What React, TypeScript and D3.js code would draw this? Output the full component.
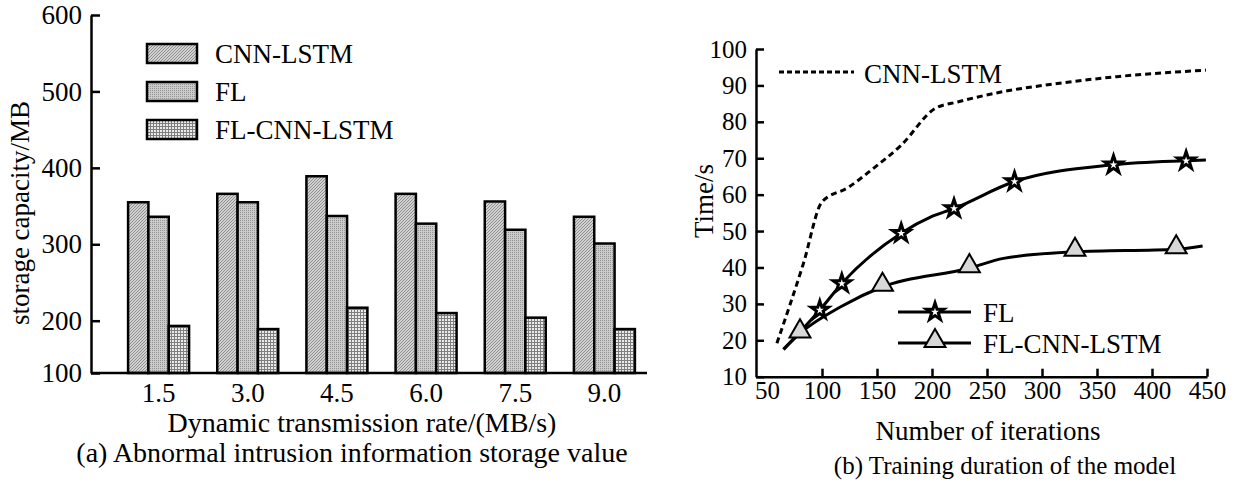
import * as React from "react";
import * as d3 from "d3";

// (a) storage values per transmission rate
const rates = ["1.5", "3.0", "4.5", "6.0", "7.5", "9.0"];
const barSeries = ["CNN-LSTM", "FL", "FL-CNN-LSTM"];
const cnnLstmStorage = [355, 366, 389, 366, 356, 336];
const flStorage = [336, 355, 337, 327, 319, 301];
const flCnnLstmStorage = [190, 184, 217, 210, 204, 184];
const storageTicks = [100, 200, 300, 400, 500, 600];

// (b) training time vs iterations
const iterTicks = [50, 100, 150, 200, 250, 300, 350, 400, 450];
const timeTicks = [10, 20, 30, 40, 50, 60, 70, 80, 90, 100];
const cnnLstmTime = [
  [59, 19.2], [83, 41], [100, 58], [124, 62], [145, 66.8], [172, 73.6],
  [203, 83.7], [224, 85.5], [265, 88.3], [316, 90.6], [368, 92.4], [449, 94.2],
];
const flTime = [
  [65, 17.5], [98, 28.3], [118, 35.6], [172, 49.4], [200, 54], [220, 56.2],
  [275, 63.6], [365, 68.2], [431, 69.3], [449, 69.5],
];
const flMarks = [[98, 28.3], [118, 35.6], [172, 49.4], [220, 56.2], [275, 63.6], [365, 68.2], [431, 69.3]];
const flCnnLstmTime = [
  [65, 17.5], [80, 21.9], [117, 29.2], [155, 34.7], [234, 39.8], [265, 42.5],
  [330, 44.3], [422, 45], [446, 45.9],
];
const flCnnLstmMarks = [[80, 21.9], [155, 34.7], [234, 39.8], [330, 44.3], [422, 45]];

const FONT = "'Liberation Serif', 'Times New Roman', serif";
const patternIds = ["p-cnn", "p-fl", "p-flc"];

function addPatterns(defs) {
  const p1 = defs.append("pattern").attr("id", "p-cnn").attr("patternUnits", "userSpaceOnUse")
    .attr("width", 3).attr("height", 3);
  p1.append("rect").attr("width", 3).attr("height", 3).attr("fill", "#d2d2d2");
  p1.append("path").attr("d", "M0,3L3,0M-1,1L1,-1M2,4L4,2").attr("stroke", "#868686").attr("stroke-width", 0.9);

  const p2 = defs.append("pattern").attr("id", "p-fl").attr("patternUnits", "userSpaceOnUse")
    .attr("width", 2).attr("height", 2);
  p2.append("rect").attr("width", 2).attr("height", 2).attr("fill", "#cbcbcb");
  p2.append("rect").attr("width", 1).attr("height", 1).attr("fill", "#949494");

  const p3 = defs.append("pattern").attr("id", "p-flc").attr("patternUnits", "userSpaceOnUse")
    .attr("width", 3).attr("height", 3);
  p3.append("rect").attr("width", 3).attr("height", 3).attr("fill", "#ebebeb");
  p3.append("path").attr("d", "M0,0.5H3M0.5,0V3").attr("stroke", "#7e7e7e").attr("stroke-width", 1);
}

function drawBars(svg) {
  const g = svg.append("g");
  const y = d3.scaleLinear().domain([100, 200, 600]).range([373, 320.7, 15]);
  const x = d3.scaleBand().domain(rates).range([114, 649]).paddingInner(0.316).paddingOuter(0.158);
  const xs = d3.scaleBand().domain(barSeries).range([0, x.bandwidth()]);
  const values = [cnnLstmStorage, flStorage, flCnnLstmStorage];

  barSeries.forEach((s, si) => {
    g.selectAll(`.bar-${si}`)
      .data(values[si])
      .enter()
      .append("rect")
      .attr("x", (d, i) => x(rates[i]) + xs(s))
      .attr("y", (d) => y(d))
      .attr("width", xs.bandwidth())
      .attr("height", (d) => y(100) - y(d))
      .attr("fill", `url(#${patternIds[si]})`)
      .attr("stroke", "#000")
      .attr("stroke-width", 2.5);
  });

  // axes
  g.append("g")
    .attr("transform", "translate(91,0)")
    .call(d3.axisLeft(y).tickValues(storageTicks).tickFormat(d3.format("d")).tickSizeInner(-9).tickSizeOuter(0).tickPadding(9))
    .call((n) => n.selectAll("path,line").attr("stroke", "#000").attr("stroke-width", 2.5));

  g.append("line").attr("x1", 91).attr("x2", 647).attr("y1", y(100)).attr("y2", y(100))
    .attr("stroke", "#000").attr("stroke-width", 2.5);

  g.append("g")
    .attr("transform", `translate(0,${y(100)})`)
    .call(d3.axisBottom(x).tickSize(0).tickPadding(10))
    .call((n) => n.select(".domain").remove());

  g.selectAll(".tick text").attr("font-family", FONT).attr("font-size", 27).attr("fill", "#000");

  // legend
  const lg = g.append("g");
  barSeries.forEach((s, i) => {
    const ly = 44 + i * 38;
    lg.append("rect").attr("x", 147).attr("y", ly).attr("width", 50).attr("height", 19)
      .attr("fill", `url(#${patternIds[i]})`).attr("stroke", "#000").attr("stroke-width", 2.5);
    lg.append("text").attr("x", 215).attr("y", ly + 19).text(s);
  });

  g.append("text").attr("transform", "translate(29,213) rotate(-90)").attr("text-anchor", "middle")
    .text("storage capacity/MB");
  g.selectAll(":scope > text, :scope > g > text").attr("font-family", FONT).attr("font-size", 27);

  g.append("text").attr("x", 362).attr("y", 432).attr("text-anchor", "middle")
    .attr("font-family", FONT).attr("font-size", 28)
    .text("Dynamic transmission rate/(MB/s)");
  g.append("text").attr("x", 352).attr("y", 462).attr("text-anchor", "middle")
    .attr("font-family", FONT).attr("font-size", 28)
    .text("(a) Abnormal intrusion information storage value");
}

function drawLines(svg) {
  const g = svg.append("g");
  const x = d3.scaleLinear().domain([40, 450]).range([756, 1207]);
  const y = d3.scaleLinear().domain([10, 100]).range([376.7, 49]);
  const line = d3.line().x((d) => x(d[0])).y((d) => y(d[1])).curve(d3.curveMonotoneX);

  g.append("g")
    .attr("transform", "translate(756,0)")
    .call(d3.axisLeft(y).tickValues(timeTicks).tickSizeInner(-8).tickSizeOuter(0).tickPadding(9))
    .call((n) => n.selectAll("path,line").attr("stroke", "#000").attr("stroke-width", 2.5));

  g.append("g")
    .attr("transform", `translate(0,${y(10)})`)
    .call(d3.axisBottom(x).tickValues(iterTicks).tickSizeInner(-8).tickSizeOuter(0).tickPadding(5))
    .call((n) => n.selectAll("path,line").attr("stroke", "#000").attr("stroke-width", 2.5))
    .call((n) => n.selectAll(".tick").filter((d) => d === 50).select("line").remove());

  g.selectAll(".tick text").attr("font-family", FONT).attr("font-size", 25).attr("fill", "#000");

  g.append("path").attr("d", line(cnnLstmTime)).attr("fill", "none").attr("stroke", "#000")
    .attr("stroke-width", 3).attr("stroke-dasharray", "6,4");
  g.append("path").attr("d", line(flTime)).attr("fill", "none").attr("stroke", "#000").attr("stroke-width", 3);
  g.append("path").attr("d", line(flCnnLstmTime)).attr("fill", "none").attr("stroke", "#000").attr("stroke-width", 3);

  const star = d3.symbol().type(d3.symbolStar).size(95);
  const tri = d3.symbol().type(d3.symbolTriangle).size(190);

  g.selectAll(".star").data(flMarks).enter().append("path")
    .attr("transform", (d) => `translate(${x(d[0])},${y(d[1])})`)
    .attr("d", star()).attr("fill", "#fff").attr("stroke", "#000").attr("stroke-width", 3);
  g.selectAll(".tri").data(flCnnLstmMarks).enter().append("path")
    .attr("transform", (d) => `translate(${x(d[0])},${y(d[1]) - 2})`)
    .attr("d", tri()).attr("fill", "#d8d8d8").attr("stroke", "#000").attr("stroke-width", 2);

  // legend
  const lg = g.append("g");
  lg.append("line").attr("x1", 779).attr("x2", 854).attr("y1", 72).attr("y2", 72)
    .attr("stroke", "#000").attr("stroke-width", 3).attr("stroke-dasharray", "5,3");
  lg.append("text").attr("x", 864).attr("y", 83).text("CNN-LSTM");

  lg.append("line").attr("x1", 898).attr("x2", 971).attr("y1", 312).attr("y2", 312)
    .attr("stroke", "#000").attr("stroke-width", 3);
  lg.append("path").attr("transform", "translate(935,312)").attr("d", star())
    .attr("fill", "#fff").attr("stroke", "#000").attr("stroke-width", 3);
  lg.append("text").attr("x", 983).attr("y", 322).text("FL");

  lg.append("line").attr("x1", 898).attr("x2", 971).attr("y1", 343).attr("y2", 343)
    .attr("stroke", "#000").attr("stroke-width", 3);
  lg.append("path").attr("transform", "translate(935,341)").attr("d", tri())
    .attr("fill", "#d8d8d8").attr("stroke", "#000").attr("stroke-width", 2);
  lg.append("text").attr("x", 983).attr("y", 353).text("FL-CNN-LSTM");

  g.append("text").attr("transform", "translate(713,201) rotate(-90)").attr("text-anchor", "middle").text("Time/s");
  g.append("text").attr("x", 988).attr("y", 440).attr("text-anchor", "middle").text("Number of iterations");
  g.selectAll(":scope > text, :scope > g > text").attr("font-family", FONT).attr("font-size", 27);

  g.append("text").attr("x", 1005).attr("y", 474).attr("text-anchor", "middle")
    .attr("font-family", FONT).attr("font-size", 25)
    .text("(b) Training duration of the model");
}

export default function App() {
  const ref = React.useRef(null);

  React.useEffect(() => {
    const svg = d3.select(ref.current);
    svg.selectAll("*").remove();
    addPatterns(svg.append("defs"));
    drawBars(svg);
    drawLines(svg);
  }, []);

  return (
    <svg
      ref={ref}
      width={1237}
      height={485}
      style={{ position: "absolute", left: 0, top: 0, background: "#fff" }}
    />
  );
}
